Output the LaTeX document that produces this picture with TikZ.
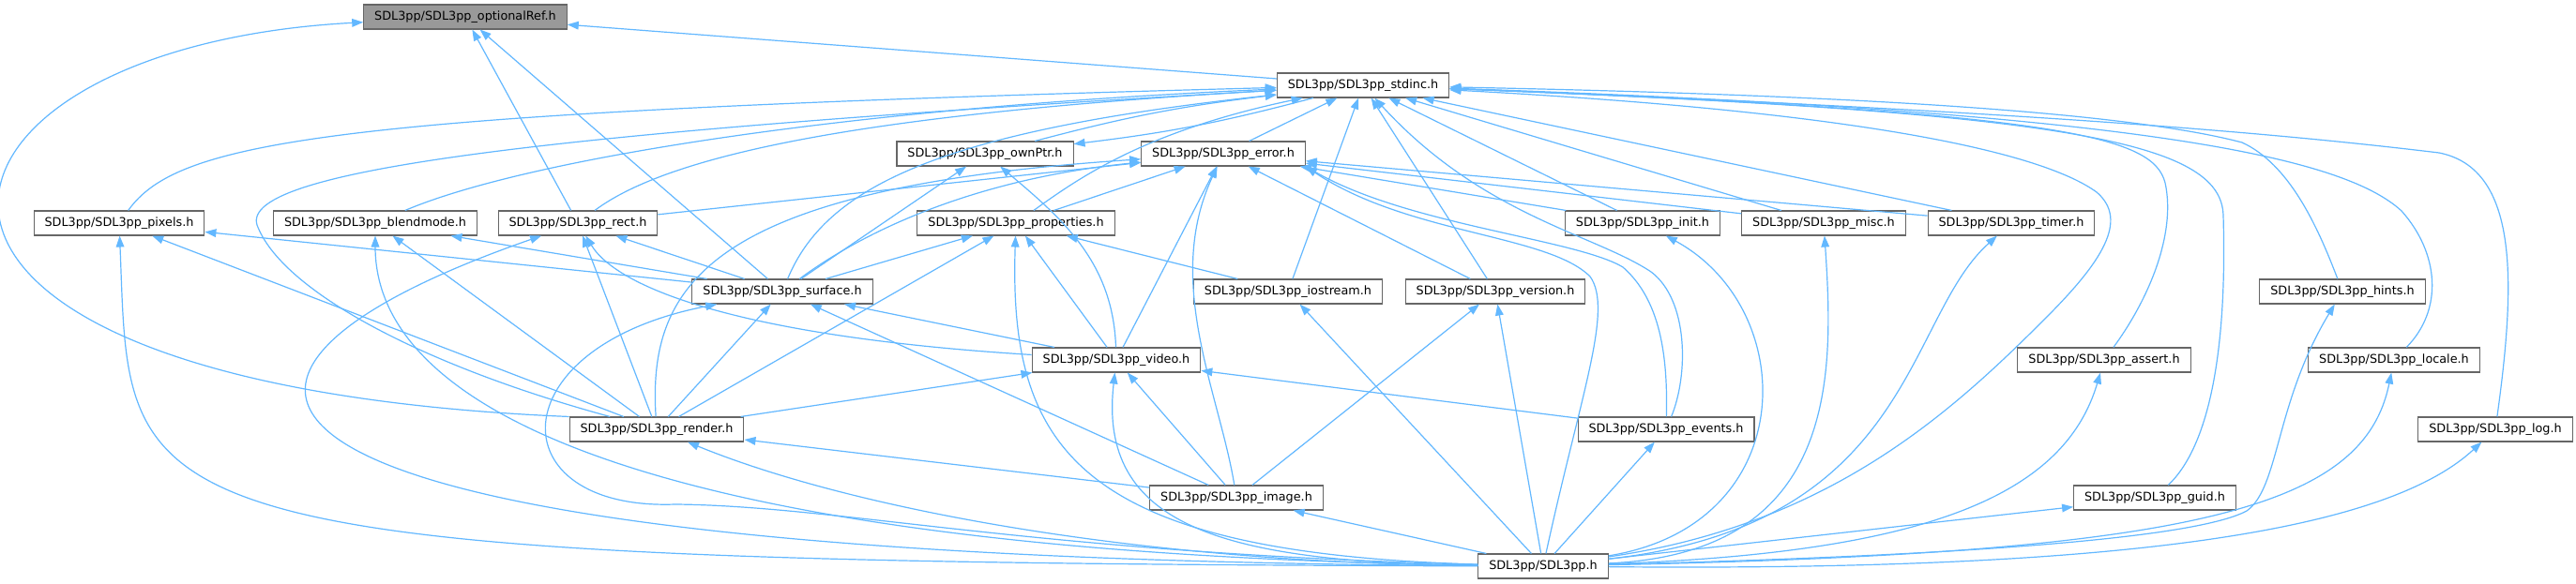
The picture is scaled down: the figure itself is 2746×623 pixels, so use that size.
\documentclass[tikz,border=0pt]{standalone}
\usepackage{fontspec}
\setmainfont{DejaVu Sans}
\usetikzlibrary{arrows.meta}
\definecolor{edgeblue}{HTML}{63B8FF}
\definecolor{grey40}{HTML}{666666}
\definecolor{grey60}{HTML}{999999}

\begin{document}
\begin{tikzpicture}[x=0.75pt, y=0.75pt, font=\fontsize{9.6}{11}\selectfont,
  >={Triangle[length=9pt, width=6.5pt]},
  hdr/.style={draw=grey40, fill=white, line width=0.8pt, inner xsep=8.6pt, inner ysep=0pt, minimum height=19.5pt},
  root/.style={hdr, fill=grey60},
  dep/.style={->, draw=edgeblue, line width=0.9pt}]
\path[fill=white, use as bounding box] (0,0) rectangle (2746,-623);
\node[root] (optref) at (496,-18) {SDL3pp/SDL3pp\_optionalRef.h};
\node[hdr] (stdinc) at (1453,-91) {SDL3pp/SDL3pp\_stdinc.h};
\node[hdr] (ownptr) at (1050,-164) {SDL3pp/SDL3pp\_ownPtr.h};
\node[hdr] (error) at (1304,-164) {SDL3pp/SDL3pp\_error.h};
\node[hdr] (pixels) at (127,-238) {SDL3pp/SDL3pp\_pixels.h};
\node[hdr] (blendmode) at (400,-238) {SDL3pp/SDL3pp\_blendmode.h};
\node[hdr] (rect) at (616,-238) {SDL3pp/SDL3pp\_rect.h};
\node[hdr] (props) at (1083,-238) {SDL3pp/SDL3pp\_properties.h};
\node[hdr] (init) at (1751,-238) {SDL3pp/SDL3pp\_init.h};
\node[hdr] (misc) at (1944,-238) {SDL3pp/SDL3pp\_misc.h};
\node[hdr] (timer) at (2144,-238) {SDL3pp/SDL3pp\_timer.h};
\node[hdr] (surface) at (834,-311) {SDL3pp/SDL3pp\_surface.h};
\node[hdr] (iostream) at (1373,-311) {SDL3pp/SDL3pp\_iostream.h};
\node[hdr] (version) at (1594,-311) {SDL3pp/SDL3pp\_version.h};
\node[hdr] (hints) at (2497,-311) {SDL3pp/SDL3pp\_hints.h};
\node[hdr] (video) at (1190,-384) {SDL3pp/SDL3pp\_video.h};
\node[hdr] (assert) at (2243,-384) {SDL3pp/SDL3pp\_assert.h};
\node[hdr] (locale) at (2552,-384) {SDL3pp/SDL3pp\_locale.h};
\node[hdr] (render) at (700,-458) {SDL3pp/SDL3pp\_render.h};
\node[hdr] (events) at (1776,-458) {SDL3pp/SDL3pp\_events.h};
\node[hdr] (logh) at (2660,-458) {SDL3pp/SDL3pp\_log.h};
\node[hdr] (image) at (1318,-531) {SDL3pp/SDL3pp\_image.h};
\node[hdr] (guid) at (2297,-531) {SDL3pp/SDL3pp\_guid.h};
\node[hdr] (sdl) at (1645,-604) {SDL3pp/SDL3pp.h};
% into optionalRef
\draw[dep] (stdinc) -- (optref);
\draw[dep] (rect) -- (optref);
\draw[dep] (surface) -- (optref);
\draw[dep] (render.north west) .. controls (-220,-410) and (-110,-50) .. (optref);
% into stdinc
\draw[dep] (ownptr) to[bend left=4] (stdinc);
\draw[dep] (stdinc) to[bend left=4] (ownptr);
\draw[dep] (error) -- (stdinc);
\draw[dep] (pixels) .. controls (190,-150) and (350,-120) .. (stdinc);
\draw[dep] (blendmode) .. controls (560,-170) and (900,-115) .. (stdinc);
\draw[dep] (rect) .. controls (720,-160) and (950,-120) .. (stdinc);
\draw[dep] (render) .. controls (450,-390) and (300,-310) .. (274,-240) .. controls (255,-180) and (600,-140) .. (stdinc);
\draw[dep] (props) .. controls (1150,-190) and (1220,-140) .. (stdinc);
\draw[dep] (surface) .. controls (880,-200) and (1000,-140) .. (stdinc);
\draw[dep] (iostream) -- (stdinc);
\draw[dep] (version) -- (stdinc);
\draw[dep] (events) .. controls (1800,-400) and (1800,-320) .. (1760,-290) .. controls (1700,-250) and (1580,-230) .. (stdinc);
\draw[dep] (init) -- (stdinc);
\draw[dep] (misc) -- (stdinc);
\draw[dep] (timer) -- (stdinc);
\draw[dep] (sdl) .. controls (1950,-560) and (2080,-440) .. (2180,-340) .. controls (2240,-280) and (2270,-235) .. (2235,-205) .. controls (2180,-165) and (2000,-120) .. (stdinc);
\draw[dep] (assert) .. controls (2290,-320) and (2320,-250) .. (2308,-195) .. controls (2295,-145) and (2200,-120) .. (stdinc);
\draw[dep] (guid) .. controls (2372,-460) and (2372,-300) .. (2370,-230) .. controls (2368,-150) and (2200,-120) .. (stdinc);
\draw[dep] (hints) .. controls (2470,-240) and (2440,-175) .. (2390,-152) .. controls (2250,-115) and (1900,-100) .. (stdinc);
\draw[dep] (locale) .. controls (2605,-330) and (2600,-270) .. (2560,-225) .. controls (2500,-170) and (2300,-120) .. (stdinc);
\draw[dep] (logh) .. controls (2682,-300) and (2685,-180) .. (2600,-163) .. controls (2450,-145) and (2200,-120) .. (stdinc);
% into ownPtr
\draw[dep] (surface) -- (ownptr);
\draw[dep] (video) to[out=92, in=-40] (ownptr);
% into error
\draw[dep] (rect) -- (error);
\draw[dep] (surface) .. controls (930,-240) and (1050,-190) .. (error);
\draw[dep] (render) .. controls (690,-300) and (760,-200) .. (error);
\draw[dep] (props) -- (error);
\draw[dep] (video) -- (error);
\draw[dep] (image) .. controls (1300,-420) and (1240,-300) .. (error);
\draw[dep] (version) -- (error);
\draw[dep] (events) .. controls (1778,-380) and (1770,-320) .. (1730,-285) .. controls (1680,-255) and (1500,-240) .. (error.south east);
\draw[dep] (sdl) .. controls (1685,-420) and (1720,-330) .. (1695,-295) .. controls (1650,-250) and (1500,-250) .. (error.south east);
\draw[dep] (init) -- (error);
\draw[dep] (misc) -- (error);
\draw[dep] (timer) -- (error);
% into pixels, blendmode, rect
\draw[dep] (surface) -- (pixels);
\draw[dep] (render) -- (pixels);
\draw[dep] (sdl) .. controls (100,-600) and (140,-560) .. (pixels);
\draw[dep] (surface) -- (blendmode);
\draw[dep] (render) -- (blendmode);
\draw[dep] (sdl) .. controls (700,-590) and (400,-440) .. (blendmode);
\draw[dep] (surface) -- (rect);
\draw[dep] (render) -- (rect);
\draw[dep] (video) .. controls (800,-360) and (660,-310) .. (rect);
\draw[dep] (sdl) .. controls (150,-595) and (150,-400) .. (rect);
% into properties
\draw[dep] (surface) -- (props);
\draw[dep] (render) -- (props);
\draw[dep] (video) -- (props);
\draw[dep] (iostream) -- (props);
\draw[dep] (sdl) .. controls (1150,-590) and (1075,-480) .. (props);
% into init, misc, timer
\draw[dep] (sdl) .. controls (1920,-560) and (1920,-330) .. (init);
\draw[dep] (sdl) .. controls (1960,-590) and (1955,-400) .. (misc);
\draw[dep] (sdl) .. controls (2040,-560) and (2030,-340) .. (timer);
% into surface
\draw[dep] (render) -- (surface);
\draw[dep] (image) -- (surface);
\draw[dep] (video) -- (surface);
\draw[dep] (sdl) .. controls (1100,-590) and (900,-540) .. (720,-538) .. controls (530,-545) and (530,-370) .. (surface);
% into iostream, version and the right column
\draw[dep] (sdl) -- (iostream);
\draw[dep] (image) -- (version);
\draw[dep] (sdl) -- (version);
\draw[dep] (sdl) .. controls (2000,-595) and (2330,-580) .. (2395,-545) .. controls (2430,-520) and (2425,-430) .. (hints);
\draw[dep] (sdl) .. controls (2050,-590) and (2200,-530) .. (assert);
\draw[dep] (sdl) .. controls (2350,-590) and (2520,-540) .. (locale);
\draw[dep] (sdl) .. controls (2300,-610) and (2550,-560) .. (logh);
\draw[dep] (sdl) -- (guid);
% into video
\draw[dep] (render) -- (video);
\draw[dep] (sdl) .. controls (1300,-600) and (1170,-560) .. (video);
\draw[dep] (image) -- (video);
\draw[dep] (events) -- (video);
% into render, events, image
\draw[dep] (image) -- (render);
\draw[dep] (sdl) .. controls (1200,-600) and (900,-540) .. (render);
\draw[dep] (sdl) -- (events);
\draw[dep] (sdl) -- (image);
\end{tikzpicture}
\end{document}
